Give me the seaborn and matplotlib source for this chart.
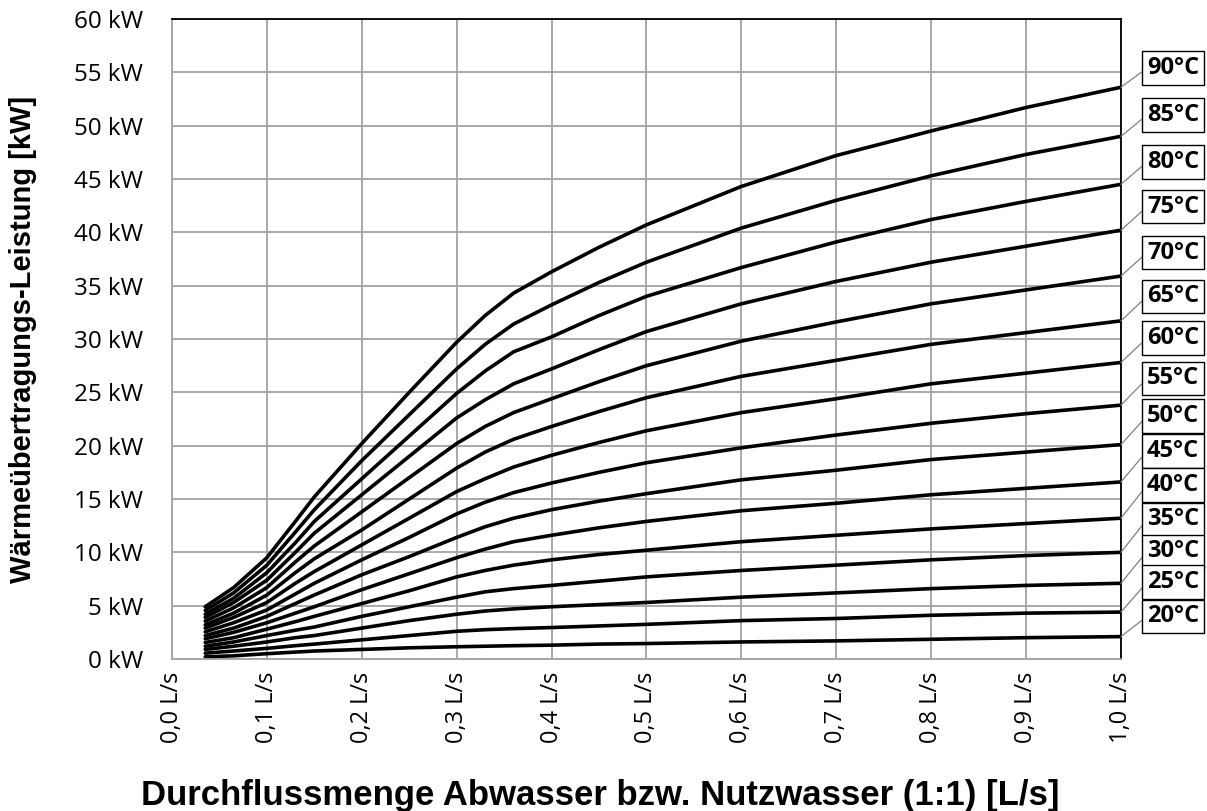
import matplotlib
matplotlib.use("Agg")
import matplotlib.pyplot as plt
import pandas as pd
import seaborn as sns

# flow rate [L/s] at which the curves were read
FLOW = [0.035, 0.065, 0.1, 0.13, 0.15, 0.2, 0.25, 0.3, 0.33, 0.36, 0.4, 0.45, 0.5, 0.6, 0.7, 0.8, 0.9, 1.0]

# heat transfer power [kW] per waste water temperature
P90 = [4.9, 6.7, 9.5, 12.9, 15.2, 20.2, 25.0, 29.7, 32.2, 34.3, 36.3, 38.6, 40.7, 44.3, 47.2, 49.5, 51.7, 53.6]
P85 = [4.55, 6.2, 8.8, 11.9, 14.0, 18.6, 22.9, 27.2, 29.5, 31.4, 33.2, 35.3, 37.2, 40.4, 43.0, 45.3, 47.3, 49.0]
P80 = [4.2, 5.7, 8.1, 10.9, 12.9, 16.9, 20.9, 24.9, 27.0, 28.8, 30.2, 32.2, 34.0, 36.7, 39.1, 41.2, 42.9, 44.5]
P75 = [3.9, 5.3, 7.4, 10.0, 11.8, 15.4, 19.0, 22.6, 24.3, 25.8, 27.2, 29.0, 30.7, 33.3, 35.4, 37.2, 38.7, 40.2]
P70 = [3.55, 4.8, 6.7, 9.1, 10.6, 13.8, 17.0, 20.2, 21.8, 23.1, 24.4, 26.0, 27.5, 29.8, 31.6, 33.3, 34.6, 35.9]
P65 = [3.2, 4.3, 6.0, 8.1, 9.4, 12.1, 15.0, 17.9, 19.4, 20.6, 21.8, 23.2, 24.5, 26.5, 28.0, 29.5, 30.6, 31.7]
P60 = [2.9, 3.9, 5.3, 7.1, 8.2, 10.7, 13.2, 15.7, 16.9, 18.0, 19.1, 20.3, 21.4, 23.1, 24.4, 25.8, 26.8, 27.8]
P55 = [2.55, 3.4, 4.6, 6.1, 7.1, 9.3, 11.4, 13.6, 14.7, 15.6, 16.5, 17.5, 18.4, 19.8, 21.0, 22.1, 23.0, 23.8]
P50 = [2.2, 2.9, 4.0, 5.2, 6.0, 7.9, 9.6, 11.4, 12.4, 13.2, 14.0, 14.8, 15.5, 16.8, 17.7, 18.7, 19.4, 20.1]
P45 = [1.9, 2.5, 3.4, 4.3, 4.9, 6.5, 8.0, 9.5, 10.3, 11.0, 11.6, 12.3, 12.9, 13.9, 14.6, 15.4, 16.0, 16.6]
P40 = [1.55, 2.0, 2.8, 3.5, 4.0, 5.2, 6.4, 7.7, 8.3, 8.8, 9.3, 9.8, 10.2, 11.0, 11.6, 12.2, 12.7, 13.2]
P35 = [1.2, 1.6, 2.2, 2.7, 3.0, 4.0, 4.9, 5.8, 6.3, 6.6, 6.9, 7.3, 7.7, 8.3, 8.8, 9.3, 9.7, 10.0]
P30 = [0.9, 1.2, 1.6, 2.0, 2.2, 2.9, 3.6, 4.2, 4.5, 4.7, 4.9, 5.1, 5.3, 5.8, 6.2, 6.6, 6.9, 7.1]
P25 = [0.55, 0.75, 1.0, 1.25, 1.4, 1.8, 2.2, 2.6, 2.75, 2.85, 2.95, 3.1, 3.25, 3.6, 3.8, 4.1, 4.3, 4.4]
P20 = [0.2, 0.3, 0.5, 0.65, 0.75, 0.9, 1.05, 1.15, 1.2, 1.25, 1.3, 1.4, 1.45, 1.6, 1.7, 1.85, 2.0, 2.1]

TEMPS = [90, 85, 80, 75, 70, 65, 60, 55, 50, 45, 40, 35, 30, 25, 20]
SERIES = [P90, P85, P80, P75, P70, P65, P60, P55, P50, P45, P40, P35, P30, P25, P20]

X_TICKS = [0.0, 0.1, 0.2, 0.3, 0.4, 0.5, 0.6, 0.7, 0.8, 0.9, 1.0]
X_TICK_LABELS = ["0,0 L/s", "0,1 L/s", "0,2 L/s", "0,3 L/s", "0,4 L/s", "0,5 L/s",
                 "0,6 L/s", "0,7 L/s", "0,8 L/s", "0,9 L/s", "1,0 L/s"]
Y_TICKS = [0, 5, 10, 15, 20, 25, 30, 35, 40, 45, 50, 55, 60]
Y_TICK_LABELS = ["0 kW", "5 kW", "10 kW", "15 kW", "20 kW", "25 kW", "30 kW",
                 "35 kW", "40 kW", "45 kW", "50 kW", "55 kW", "60 kW"]

# where the temperature boxes sit on the right (kW scale)
LABEL_Y = [55.4, 51.0, 46.6, 42.4, 38.1, 34.0, 30.1, 26.3, 22.8, 19.5, 16.3, 13.1, 10.1, 7.2, 4.0]

rows = []
for temp, values in zip(TEMPS, SERIES):
    for flow, power in zip(FLOW, values):
        rows.append({"flow": flow, "power": power, "temp": temp})
df = pd.DataFrame(rows)

sns.set_style("white")
plt.rcParams.update(
    {
        "font.family": ["Open Sans", "DejaVu Sans"],
        "text.color": "black",
        "axes.labelcolor": "black",
        "xtick.labelcolor": "black",
        "ytick.labelcolor": "black",
    }
)

fig = plt.figure(figsize=(12.07, 8.11), dpi=100)
ax = fig.add_axes([0.1425, 0.1874, 0.7862, 0.7892])

sns.lineplot(data=df, x="flow", y="power", hue="temp", palette=["black"] * len(TEMPS),
             legend=False, linewidth=2.6, estimator=None, sort=False, ax=ax)

ax.set_xlim(0, 1.0)
ax.set_ylim(0, 60)
ax.set_xticks(X_TICKS)
ax.set_xticklabels(X_TICK_LABELS, rotation=90, fontsize=17)
ax.set_yticks(Y_TICKS)
ax.set_yticklabels(Y_TICK_LABELS, fontsize=17.5)
ax.grid(True, color="#a3a3a3", linewidth=1.3)
ax.set_axisbelow(True)
ax.tick_params(axis="both", direction="out", length=7, width=1.3, color="#a3a3a3",
               labelcolor="black")
ax.tick_params(axis="y", pad=14)
ax.tick_params(axis="x", pad=2)
for side in ["left", "bottom"]:
    ax.spines[side].set_color("#a3a3a3")
    ax.spines[side].set_linewidth(1.3)
for side in ["top", "right"]:
    ax.spines[side].set_color("black")
    ax.spines[side].set_linewidth(1.3)

ax.set_xlabel("")
ax.set_ylabel("Wärmeübertragungs-Leistung [kW]", family="Liberation Sans",
              fontweight="bold", fontsize=21, color="black")
ax.yaxis.set_label_coords(-0.142, 0.5)
fig.text(0.497, 0.0197, "Durchflussmenge Abwasser bzw. Nutzwasser (1:1) [L/s]",
         family="Liberation Sans", fontweight="bold", fontsize=25, color="black",
         ha="center", va="center")

for temp, values, ly in zip(TEMPS, SERIES, LABEL_Y):
    ax.annotate(f"{temp}°C", xy=(FLOW[-1], values[-1]), xycoords="data",
                xytext=(1.0275, ly), textcoords=("axes fraction", "data"),
                ha="left", va="center", fontsize=17, fontweight="bold", color="black",
                bbox=dict(boxstyle="square,pad=0.2", fc="white", ec="black", lw=1),
                arrowprops=dict(arrowstyle="-", color="#808080", lw=0.9,
                                shrinkA=0, shrinkB=0, relpos=(0, 0.5)),
                annotation_clip=False)

fig.savefig("out.png", dpi=100)
